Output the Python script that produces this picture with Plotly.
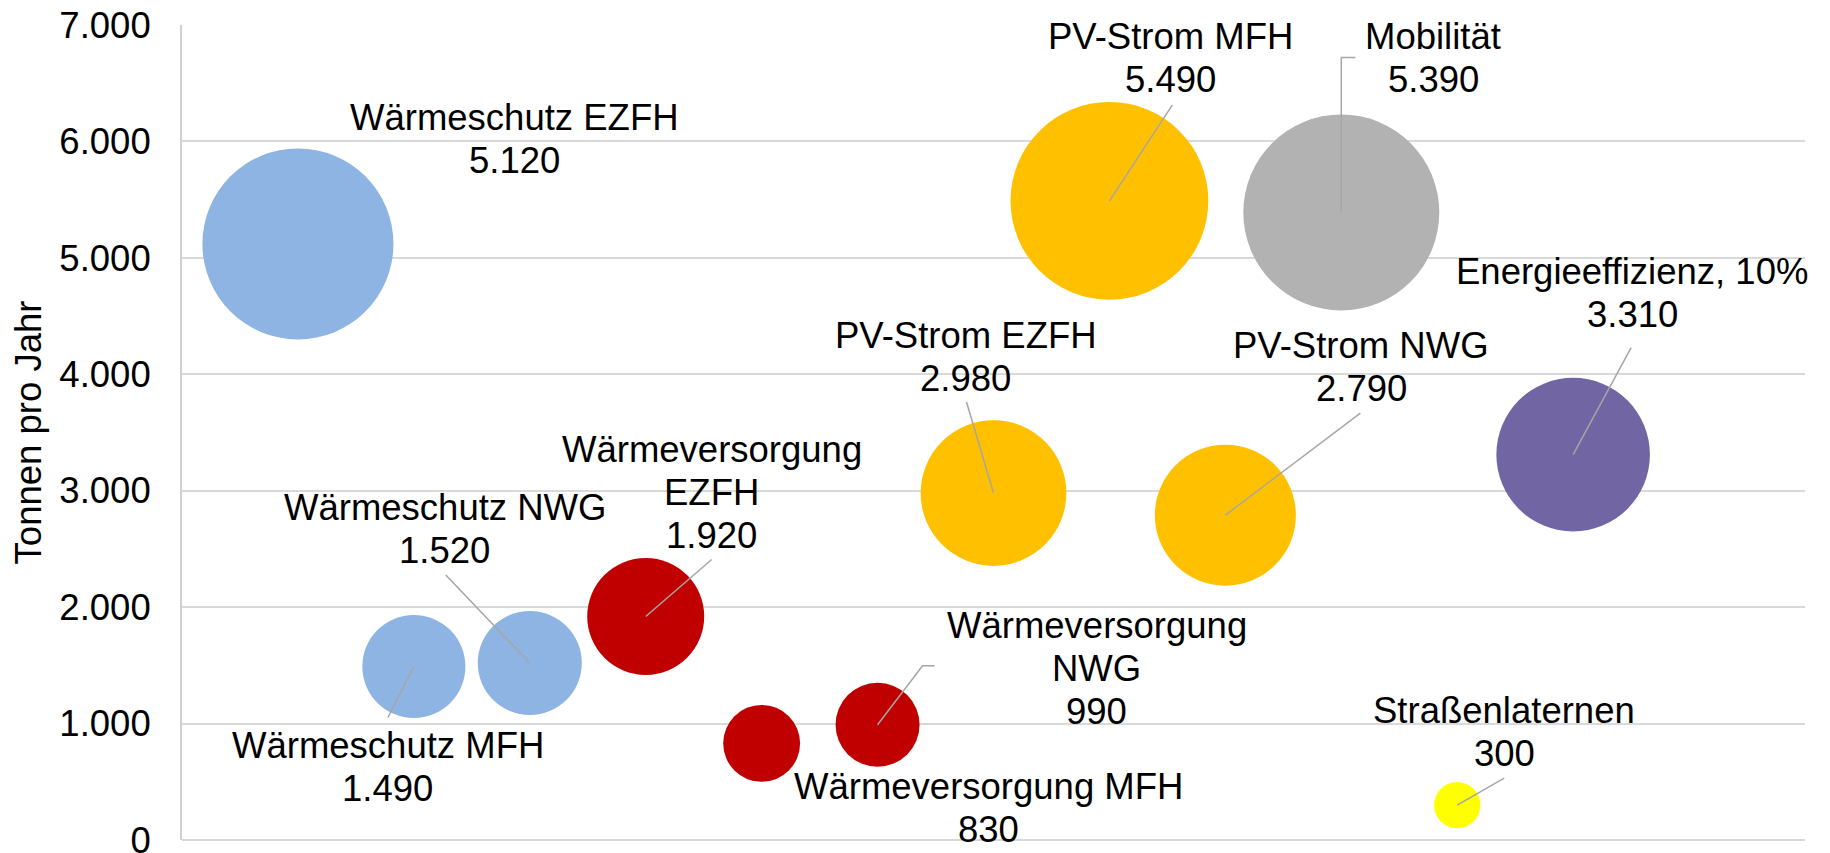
import plotly.graph_objects as go

# ---------------- data ----------------
categories = [
    "Wärmeschutz EZFH", "Wärmeschutz MFH", "Wärmeschutz NWG",
    "Wärmeversorgung<br>EZFH", "Wärmeversorgung MFH", "Wärmeversorgung<br>NWG",
    "PV-Strom EZFH", "PV-Strom MFH", "PV-Strom NWG",
    "Mobilität", "Straßenlaternen", "Energieeffizienz, 10%",
]
x_index = [1, 2, 3, 4, 5, 6, 7, 8, 9, 10, 11, 12]
tonnen = [5120, 1490, 1520, 1920, 830, 990, 2980, 5490, 2790, 5390, 300, 3310]
y_ticks = [0, 1000, 2000, 3000, 4000, 5000, 6000, 7000]

# ---------------- style ----------------
colors = [
    "#8EB4E3", "#8EB4E3", "#8EB4E3",
    "#C00000", "#C00000", "#C00000",
    "#FFC000", "#FFC000", "#FFC000",
    "#B2B2B2", "#FFFF00", "#7166A3",
]
# label block centre offset from bubble centre (px, screen: +dy = down)
label_offsets = [
    (217, -105), (-26, 100), (-85, -134), (66, -124), (227, 65), (219, -56),
    (-28, -136), (61, -143), (136, -148), (92, -154), (47, -73), (59, -162),
]
# leader line vertices relative to bubble centre (px, screen: +dy = down)
leaders = [
    None, [(-26, 51)], [(-84, -88)], [(66, -57)], None, [(45, -59), (57, -59)],
    [(-27, -91)], [(63, -96)], [(135, -102)], [(0, -155), (14, -155)],
    [(47, -27)], [(58, -107)],
]
FONT = "Liberation Sans, Arial, sans-serif"
FS = 36.5
LINE_SP = 43
max_diam = 197.8
# the page body adds an 8px margin before the figure (top/left)
PAGE_PAD = 8


def fmt(v):
    return f"{v:,}".replace(",", ".")


fig = go.Figure()
fig.add_trace(go.Scatter(
    x=x_index, y=tonnen, mode="markers",
    marker=dict(size=tonnen, sizemode="area",
                sizeref=2 * max(tonnen) / max_diam ** 2,
                color=colors, line=dict(width=0), opacity=1),
    hoverinfo="skip", showlegend=False,
))

shapes = []
annotations = []
for xi, v, name, (dx, dy), ld in zip(x_index, tonnen, categories, label_offsets, leaders):
    if ld:
        path = "M0,0" + "".join(f" L{px},{-py}" for px, py in ld)
        shapes.append(dict(
            type="path", xref="x", yref="y", xsizemode="pixel", ysizemode="pixel",
            xanchor=xi, yanchor=v, path=path,
            line=dict(color="#A6A6A6", width=1.5), layer="above",
        ))
    lines = name.split("<br>") + [fmt(v)]
    n = len(lines)
    for i, t in enumerate(lines):
        cy = dy + (i - (n - 1) / 2) * LINE_SP
        annotations.append(dict(
            x=xi, y=v, xref="x", yref="y", text=t, showarrow=False,
            xshift=dx, yshift=-cy, xanchor="center", yanchor="middle",
            font=dict(family=FONT, size=FS, color="black"),
        ))

fig.update_layout(
    width=1830 - PAGE_PAD, height=853 - PAGE_PAD,
    margin=dict(l=182 - PAGE_PAD, r=25, t=25 - PAGE_PAD, b=13, autoexpand=False),
    paper_bgcolor="white", plot_bgcolor="white",
    separators=",.",
    font=dict(family=FONT, size=FS, color="black"),
    shapes=shapes, annotations=annotations,
    xaxis=dict(range=[0, 14], showgrid=False, zeroline=False, showticklabels=False,
               showline=False, ticks=""),
    yaxis=dict(range=[0, 7000], tickvals=y_ticks,
               ticktext=[fmt(t) for t in y_ticks],
               showgrid=True, gridcolor="#D9D9D9", gridwidth=1.5,
               zeroline=True, zerolinecolor="#D9D9D9", zerolinewidth=1.5,
               showline=True, linecolor="#D0D0D0", linewidth=2,
               ticks="", ticklabelstandoff=22, ticklabeloverflow="allow",
               tickfont=dict(family=FONT, size=FS, color="black"),
               title=dict(text="Tonnen pro Jahr", standoff=8,
                          font=dict(family=FONT, size=FS, color="black"))),
)

fig.write_html("out.html")
